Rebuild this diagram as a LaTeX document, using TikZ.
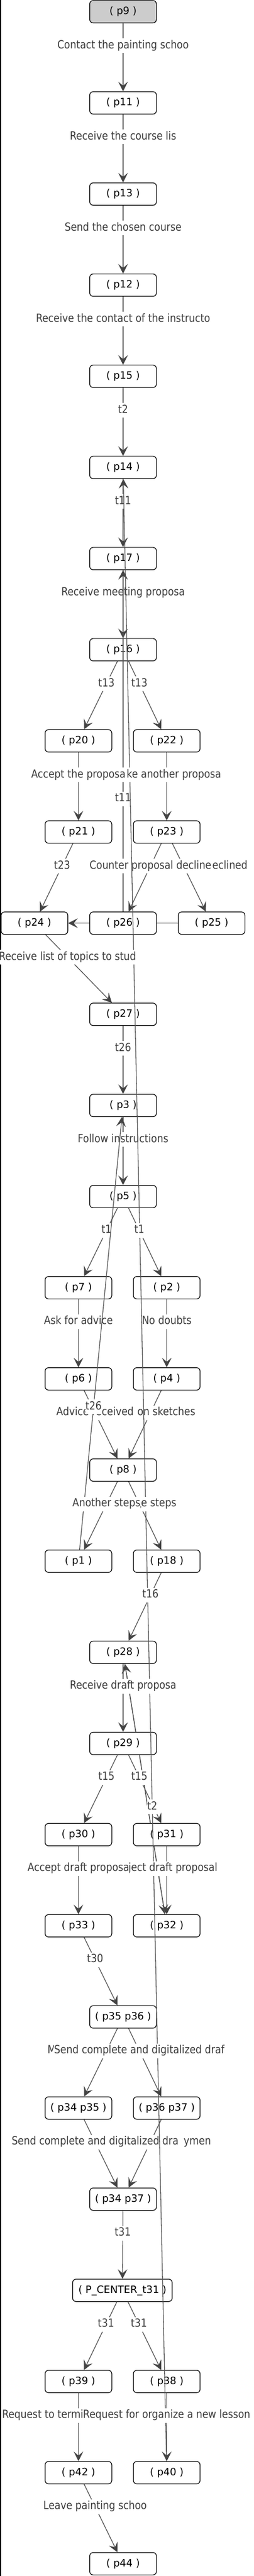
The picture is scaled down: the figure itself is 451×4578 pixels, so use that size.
\documentclass[tikz,border=0pt]{standalone}
\usepackage{fontspec}
\usetikzlibrary{arrows.meta}
\newfontfamily\lblfamily[FakeStretch=0.865]{DejaVu Sans}
\newfontfamily\nodefamily{DejaVu Sans}
\definecolor{linegray}{HTML}{555555}
\definecolor{arrowgray}{HTML}{444444}
\definecolor{labelgray}{HTML}{3C3C3C}
\definecolor{startgray}{HTML}{CCCCCC}
\pgfdeclarelayer{bg}
\pgfsetlayers{bg,main}
\tikzset{
  placebox/.style={draw=black, line width=1.2pt, rounded corners=6pt, fill=white,
    minimum width=118.7pt, minimum height=39.7pt, inner sep=0pt,
    font=\nodefamily\fontsize{18}{20}\selectfont, text=black},
  initplace/.style={placebox, fill=startgray},
  wideplace/.style={placebox, minimum width=177pt},
  edgeline/.style={draw=linegray, line width=1.3pt,
    -{Stealth[length=17pt,width=17pt,inset=7pt,color=arrowgray]}},
  lbl/.style={fill=white, text=labelgray, font=\lblfamily\fontsize{20}{24}\selectfont,
    inner xsep=0.5pt, inner ysep=3pt, text height=15pt, text depth=5pt, pos=0.33},
}
\begin{document}
\begin{tikzpicture}[x=1pt,y=-1pt]
\useasboundingbox (0,0) rectangle (451,4578);
\begin{pgfonlayer}{bg}
\fill[white] (0,0) rectangle (451,4578);
\end{pgfonlayer}
\fill[black] (0,0) rectangle (2,4578);

% nodes
\node[initplace] (p9) at (219,20.8) {( p9 )};
\node[placebox] (p11) at (219,182.8) {( p11 )};
\node[placebox] (p13) at (219,344.8) {( p13 )};
\node[placebox] (p12) at (219,506.7) {( p12 )};
\node[placebox] (p15) at (219,668.7) {( p15 )};
\node[placebox] (p14) at (219,830.7) {( p14 )};
\node[placebox] (p17) at (219,992.7) {( p17 )};
\node[placebox] (p16) at (219,1154.7) {( p16 )};
\node[placebox] (p20) at (139.6,1316.6) {( p20 )};
\node[placebox] (p22) at (296.7,1316.6) {( p22 )};
\node[placebox] (p21) at (139.6,1478.6) {( p21 )};
\node[placebox] (p23) at (296.7,1478.6) {( p23 )};
\node[placebox] (p24) at (61.3,1640.6) {( p24 )};
\node[placebox] (p26) at (219,1640.6) {( p26 )};
\node[placebox] (p25) at (376.5,1640.6) {( p25 )};
\node[placebox] (p27) at (219,1802.6) {( p27 )};
\node[placebox] (p3) at (219,1964.6) {( p3 )};
\node[placebox] (p5) at (219,2126.5) {( p5 )};
\node[placebox] (p7) at (139.6,2288.5) {( p7 )};
\node[placebox] (p2) at (296.7,2288.5) {( p2 )};
\node[placebox] (p6) at (139.6,2450.5) {( p6 )};
\node[placebox] (p4) at (296.7,2450.5) {( p4 )};
\node[placebox] (p8) at (219,2612.5) {( p8 )};
\node[placebox] (p1) at (139.6,2774.5) {( p1 )};
\node[placebox] (p18) at (296.7,2774.5) {( p18 )};
\node[placebox] (p28) at (219,2936.4) {( p28 )};
\node[placebox] (p29) at (219,3098.4) {( p29 )};
\node[placebox] (p30) at (139.6,3260.4) {( p30 )};
\node[placebox] (p31) at (296.7,3260.4) {( p31 )};
\node[placebox] (p33) at (139.6,3422.4) {( p33 )};
\node[placebox] (p32) at (296.7,3422.4) {( p32 )};
\node[placebox] (p3536) at (219,3584.4) {( p35 p36 )};
\node[placebox] (p3435) at (139.6,3746.3) {( p34 p35 )};
\node[placebox] (p3637) at (296.7,3746.3) {( p36 p37 )};
\node[placebox] (p3437) at (219,3908.3) {( p34 p37 )};
\node[wideplace] (pc) at (217.8,4070.3) {( P\_CENTER\_t31 )};
\node[placebox] (p39) at (139.6,4232.3) {( p39 )};
\node[placebox] (p38) at (296.7,4232.3) {( p38 )};
\node[placebox] (p42) at (139.6,4394.3) {( p42 )};
\node[placebox] (p40) at (296.7,4394.3) {( p40 )};
\node[placebox] (p44) at (219,4556.2) {( p44 )};

% edges hidden behind nodes
\begin{pgfonlayer}{bg}
\draw[edgeline] (p25) -- (p24);
\draw[edgeline] (p28) -- (p32);
\draw[edgeline] (p32) -- (p28);
\end{pgfonlayer}

% ordinary edges
\draw[edgeline] (p9) -- node[lbl]{Contact the painting schoo} (p11);
\draw[edgeline] (p11) -- node[lbl]{Receive the course lis} (p13);
\draw[edgeline] (p13) -- node[lbl]{Send the chosen course} (p12);
\draw[edgeline] (p12) -- node[lbl]{Receive the contact of the instructo} (p15);
\draw[edgeline] (p15) -- node[lbl]{t2} (p14);
\draw[edgeline] (p14) -- node[lbl]{t11} (p17);
\draw[edgeline] (p17) -- node[lbl]{Receive meeting proposa} (p16);
\draw[edgeline] (p16) -- node[lbl]{t13} (p20);
\draw[edgeline] (p16) -- node[lbl]{t13} (p22);
\draw[edgeline] (p21) -- node[lbl]{t23} (p24);
\draw[edgeline] (p27) -- node[lbl]{t26} (p3);
\draw[edgeline] (p3) -- node[lbl]{Follow instructions} (p5);
\draw[edgeline] (p5) -- node[lbl]{t1} (p7);
\draw[edgeline] (p7) -- node[lbl]{Ask for advice} (p6);
\draw[edgeline] (p2) -- node[lbl]{No doubts} (p4);
\draw[edgeline] (p4) -- node[lbl, anchor=east, xshift=81pt]{on sketches} (p8);
\draw[edgeline] (p6) -- node[lbl]{Advice received} (p8);
\draw[edgeline] (p29) -- node[lbl]{t15} (p30);
\draw[edgeline] (p29) -- node[lbl]{t15} (p31);
\draw[edgeline] (p33) -- node[lbl]{t30} (p3536);
\draw[edgeline] (p3536) -- node[lbl, anchor=west, xshift=-106pt]{M} (p3435);
\draw[edgeline] (p3637) -- node[lbl, anchor=east, xshift=109pt]{ymen} (p3437);
\draw[edgeline] (p3435) -- node[lbl]{Send complete and digitalized dra} (p3437);
\draw[edgeline] (p3437) -- node[lbl]{t31} (pc);
\draw[edgeline] (pc) -- node[lbl]{t31} (p39);
\draw[edgeline] (pc) -- node[lbl]{t31} (p38);
\draw[edgeline] (p39) -- node[lbl, anchor=west, xshift=-137pt]{Request to termi} (p42);
\draw[edgeline] (p42) -- node[lbl]{Leave painting schoo} (p44);

% long connectors and labels in drawing order
\draw[edgeline] (p26) -- node[lbl]{t11} (p17);
\draw[edgeline] (p23) -- node[lbl]{Counter proposal declined} (p25);
\draw[edgeline] (p23) -- node[lbl]{Counter proposal decline} (p26);
\draw[edgeline] (p1) -- node[lbl]{t26} (p3);
\draw[edgeline] (p40) -- node[lbl]{t2} (p14);

\draw[edgeline] (p22) -- node[lbl]{Make another proposa} (p23);
\draw[edgeline] (p20) -- node[lbl]{Accept the proposa} (p21);
\draw[edgeline] (p24) -- node[lbl]{Receive list of topics to stud} (p27);
\draw[edgeline] (p5) -- node[lbl]{t1} (p2);
\draw[edgeline] (p8) -- node[lbl, anchor=east, xshift=67pt]{e steps} (p18);
\draw[edgeline] (p8) -- node[lbl]{Another steps} (p1);
\draw[edgeline] (p18) -- node[lbl]{t16} (p28);
\draw[edgeline] (p28) -- node[lbl]{Receive draft proposa} (p29);
\draw[edgeline] (p31) -- node[lbl]{Reject draft proposal} (p32);
\draw[edgeline] (p30) -- node[lbl]{Accept draft proposa} (p33);
\draw[edgeline] (p3536) -- node[lbl]{Send complete and digitalized draf} (p3637);
\draw[edgeline] (p38) -- node[lbl]{Request for organize a new lesson} (p40);
\end{tikzpicture}
\end{document}
